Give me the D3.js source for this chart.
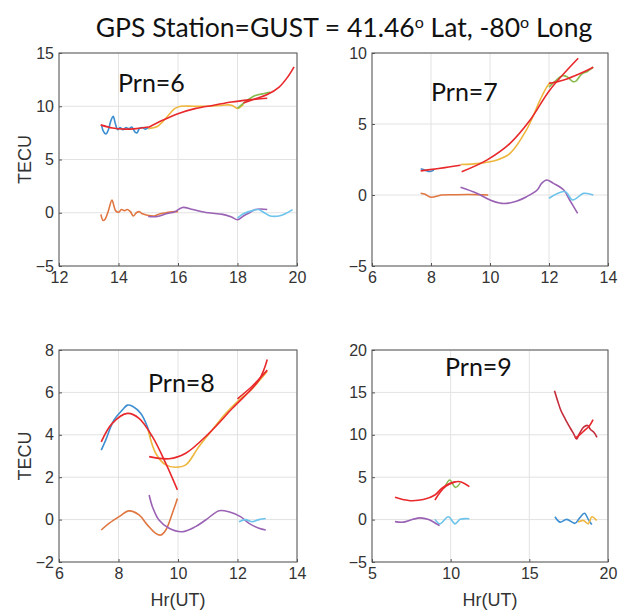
<!DOCTYPE html>
<html>
<head>
<meta charset="utf-8">
<script src="https://cdn.jsdelivr.net/npm/d3@7"></script>
<style>
  body { margin: 0; background: #fff; }
  .grid line { stroke: #e2e2e2; }
  .trace { fill: none; stroke-width: 1.6; stroke-linejoin: round; }
</style>
</head>
<body>
<svg id="chart" width="619" height="613"></svg>
<script>
const TITLE = 'GPS Station=GUST = 41.46';
const Y_LABEL = 'TECU';
const X_LABEL = 'Hr(UT)';
const SANS = '"Liberation Sans", Arial, sans-serif';
const HUMAN = 'Lato, "Open Sans", sans-serif';

const COLORS = {
  blue: '#3d8fd1', orange: '#e07640', yellow: '#efb63e', purple: '#9a62b4',
  green: '#86ba4c', cyan: '#6cc4ec', red: '#e8282b', darkred: '#c42c3c'
};

// Prn=6
const p6Blue = [[13.43,8.2],[13.5,7.6],[13.58,7.4],[13.66,7.8],[13.75,8.7],[13.82,9.05],[13.9,8.3],[13.97,7.8],[14.05,8.0],[14.15,7.8],[14.25,8.0],[14.35,7.9],[14.45,8.05],[14.55,7.6],[14.62,7.5],[14.7,7.9],[14.8,8.0],[14.9,7.85],[15.0,8.0]];
const p6Yellow = [[15.0,7.9],[15.3,8.1],[15.6,8.9],[15.9,9.8],[16.1,10.0],[16.5,10.0],[17.0,10.0],[17.5,10.1],[17.8,10.1],[18.0,9.8],[18.2,10.2]];
const p6Green = [[18.0,9.8],[18.3,10.5],[18.6,11.0],[18.9,11.2],[19.1,11.3]];
const p6RedA = [[13.4,8.25],[13.8,7.95],[14.2,7.85],[14.6,7.9],[15.0,8.05]];
const p6RedB = [[15.0,8.0],[15.5,8.7],[16.0,9.3],[16.6,9.8],[17.2,10.1],[17.8,10.4],[18.4,10.6],[19.0,10.75]];
const p6RedC = [[18.2,10.3],[18.6,10.7],[19.0,11.1],[19.4,11.8],[19.7,12.8],[19.9,13.7]];
const p6Orange = [[13.41,-0.16],[13.48,-0.73],[13.55,-0.6],[13.65,0.1],[13.78,1.2],[13.85,0.6],[13.9,0.2],[14.0,0.05],[14.1,0.3],[14.2,0.2],[14.3,0.3],[14.4,0.1],[14.5,-0.3],[14.6,0.0],[14.7,0.1],[14.8,-0.1],[15.0,-0.25],[15.2,-0.3],[15.4,-0.1],[15.6,0.0],[15.8,0.1],[16.0,0.1]];
const p6Purple = [[15.0,-0.35],[15.3,-0.35],[15.6,-0.1],[15.9,0.1],[16.15,0.5],[16.5,0.3],[17.0,0.0],[17.5,-0.15],[17.8,-0.4],[18.0,-0.65],[18.2,-0.3],[18.4,0.0],[18.6,0.3],[18.8,0.35],[19.0,0.3]];
const p6Cyan = [[18.0,-0.5],[18.2,-0.1],[18.5,0.2],[18.7,0.3],[18.9,0.0],[19.1,-0.3],[19.4,-0.3],[19.6,-0.1],[19.85,0.3]];

// Prn=7
const p7Blue = [[7.65,1.85],[7.8,1.75],[7.95,1.65],[8.1,1.75]];
const p7RedA = [[7.65,1.7],[8.2,1.85],[8.6,1.97],[9.0,2.1]];
const p7Yellow = [[9.0,2.15],[9.66,2.23],[10.23,2.46],[10.68,2.93],[11.24,4.6],[11.7,6.7],[11.92,7.6],[12.05,7.96]];
const p7RedB = [[9.04,1.64],[9.89,2.46],[10.68,3.64],[11.36,5.28],[12.03,7.4],[12.99,9.63]];
const p7RedC = [[12.0,7.85],[12.5,8.1],[13.0,8.5],[13.5,9.0]];
const p7Green = [[12.0,7.6],[12.2,8.0],[12.45,8.4],[12.6,8.35],[12.8,8.0],[12.9,8.0],[13.1,8.5],[13.3,8.7],[13.5,9.0]];
const p7Orange = [[7.65,0.12],[7.8,0.05],[8.0,-0.16],[8.35,0.0],[8.8,0.02],[9.3,0.03],[9.94,0.0]];
const p7Purple = [[9.0,0.54],[9.55,0.12],[10.0,-0.35],[10.4,-0.59],[10.8,-0.5],[11.24,-0.12],[11.6,0.35],[11.75,0.82],[11.92,1.06],[12.15,0.82],[12.5,0.35],[12.7,-0.35],[12.97,-1.29]];
const p7Cyan = [[12.0,-0.23],[12.54,0.24],[12.8,-0.35],[13.18,0.12],[13.5,0.0]];

// Prn=8
const p8Blue = [[7.42,3.28],[7.57,3.75],[7.85,4.7],[8.13,5.17],[8.3,5.4],[8.47,5.35],[8.75,5.0],[8.97,4.38],[9.08,3.9]];
const p8Yellow = [[9.0,4.2],[9.25,3.13],[9.59,2.58],[9.92,2.47],[10.26,2.58],[10.7,3.44],[11.15,4.23],[11.6,5.0],[12.05,5.64],[12.39,6.03],[12.7,6.5],[13.0,7.0]];
const p8RedA = [[7.42,3.67],[7.79,4.54],[8.3,5.01],[8.69,4.78],[9.14,3.91],[9.59,2.65],[9.98,1.4]];
const p8RedB = [[9.03,2.97],[9.7,2.87],[10.26,3.13],[11.04,4.07],[11.83,5.25],[12.72,6.58],[13.0,7.55]];
const p8RedC = [[12.0,5.7],[12.5,6.3],[13.0,7.05]];
const p8Orange = [[7.42,-0.49],[7.68,-0.18],[8.02,0.14],[8.35,0.41],[8.69,0.22],[8.97,-0.25],[9.25,-0.65],[9.42,-0.73],[9.59,-0.49],[9.81,0.3],[9.98,1.0]];
const p8Purple = [[9.03,1.16],[9.14,0.61],[9.36,-0.02],[9.7,-0.41],[10.15,-0.57],[10.59,-0.33],[10.93,-0.02],[11.38,0.42],[11.71,0.37],[12.1,0.14],[12.39,-0.18],[12.72,-0.41],[12.95,-0.49]];
const p8Cyan = [[12.05,-0.1],[12.27,0.0],[12.5,-0.1],[12.72,0.0],[12.95,0.05]];

// Prn=9
const p9RedA = [[6.46,2.63],[7.0,2.35],[7.42,2.23],[8.26,2.36],[9.0,2.9],[9.43,3.69],[9.96,4.28],[10.59,4.47],[11.19,3.88]];
const p9RedB = [[9.0,2.31],[9.65,3.88],[10.3,4.47]];
const p9Green = [[9.6,3.7],[9.94,4.67],[10.3,3.8],[10.6,4.3]];
const p9Purple = [[6.46,-0.24],[7.0,-0.3],[7.6,0.03],[8.05,0.2],[8.6,0.0],[9.13,-0.52],[9.3,-0.7]];
const p9Cyan = [[9.0,0.03],[9.32,-0.5],[9.85,0.34],[10.28,-0.5],[10.6,0.03],[11.19,0.1]];
const p9DarkRed = [[16.6,15.2],[16.8,14.0],[17.0,12.9],[17.3,11.8],[17.6,10.8],[17.85,10.0],[18.0,9.5],[18.2,10.2],[18.45,10.9],[18.7,11.1],[18.9,10.6],[19.1,10.3],[19.3,9.7]];
const p9RedC = [[17.9,9.6],[18.2,10.0],[18.5,10.5],[18.8,11.0],[19.05,11.8]];
const p9Blue = [[16.63,0.34],[16.95,-0.3],[17.37,0.03],[17.9,-0.44],[18.2,0.2],[18.5,0.74],[18.75,0.03],[18.97,-0.6]];
const p9Yellow = [[18.1,-0.3],[18.43,-0.1],[18.75,-0.5],[18.97,0.34],[19.28,-0.1]];

const xTicks6 = [12, 14, 16, 18, 20];
const yTicks6 = [-5, 0, 5, 10, 15];
const xTicks7 = [6, 8, 10, 12, 14];
const yTicks7 = [-5, 0, 5, 10];
const xTicks8 = [6, 8, 10, 12, 14];
const yTicks8 = [-2, 0, 2, 4, 6, 8];
const xTicks9 = [5, 10, 15, 20];
const yTicks9 = [-5, 0, 5, 10, 15, 20];

const panels = [
  { prn: 'Prn=6', box: [59, 53, 238, 213], xT: xTicks6, yT: yTicks6, lab: [118, 92], yl: true, xl: false,
    series: [[p6Orange,'orange'],[p6Purple,'purple'],[p6Cyan,'cyan'],[p6Blue,'blue'],[p6Yellow,'yellow'],[p6Green,'green'],[p6RedA,'red'],[p6RedB,'red'],[p6RedC,'red']] },
  { prn: 'Prn=7', box: [372, 53, 236, 213], xT: xTicks7, yT: yTicks7, lab: [431, 101], yl: false, xl: false,
    series: [[p7Orange,'orange'],[p7Purple,'purple'],[p7Cyan,'cyan'],[p7Blue,'blue'],[p7Yellow,'yellow'],[p7Green,'green'],[p7RedA,'red'],[p7RedB,'red'],[p7RedC,'red']] },
  { prn: 'Prn=8', box: [59, 350, 238, 212], xT: xTicks8, yT: yTicks8, lab: [148, 392], yl: true, xl: true,
    series: [[p8Orange,'orange'],[p8Purple,'purple'],[p8Cyan,'cyan'],[p8Blue,'blue'],[p8Yellow,'yellow'],[p8RedA,'red'],[p8RedB,'red'],[p8RedC,'red']] },
  { prn: 'Prn=9', box: [372, 350, 236, 212], xT: xTicks9, yT: yTicks9, lab: [445, 376], yl: false, xl: true,
    series: [[p9Purple,'purple'],[p9Cyan,'cyan'],[p9Blue,'blue'],[p9Yellow,'yellow'],[p9Green,'green'],[p9RedA,'red'],[p9RedB,'red'],[p9DarkRed,'darkred'],[p9RedC,'red']] }
];

const svg = d3.select('#chart');

// title with superscript degree marks
const title = svg.append('text')
  .attr('x', 344)
  .attr('y', 37)
  .attr('text-anchor', 'middle')
  .attr('font-family', HUMAN)
  .attr('font-size', 26.5)
  .attr('fill', '#111');
title.append('tspan').text(TITLE);
title.append('tspan').attr('dy', -9).attr('font-size', 16).text('o');
title.append('tspan').attr('dy', 9).text(' Lat, -80');
title.append('tspan').attr('dy', -9).attr('font-size', 16).text('o');
title.append('tspan').attr('dy', 9).text(' Long');

panels.forEach(p => {
  const [left, top, w, h] = p.box;
  const x = d3.scaleLinear().domain(d3.extent(p.xT)).range([0, w]);
  const y = d3.scaleLinear().domain(d3.extent(p.yT)).range([h, 0]);

  const g = svg.append('g').attr('transform', `translate(${left},${top})`);

  // grid
  g.append('g').attr('class', 'grid')
    .selectAll('line').data(p.xT).join('line')
    .attr('x1', d => x(d)).attr('x2', d => x(d)).attr('y1', 0).attr('y2', h);
  g.append('g').attr('class', 'grid')
    .selectAll('line').data(p.yT).join('line')
    .attr('y1', d => y(d)).attr('y2', d => y(d)).attr('x1', 0).attr('x2', w);

  // traces
  const line = d3.line().x(d => x(d[0])).y(d => y(d[1])).curve(d3.curveCatmullRom);
  g.selectAll('path.trace').data(p.series).join('path')
    .attr('class', 'trace')
    .attr('stroke', d => COLORS[d[1]])
    .attr('d', d => line(d[0]));

  // axes
  const xAxis = g.append('g').attr('transform', `translate(0,${h})`)
    .call(d3.axisBottom(x).tickValues(p.xT).tickSize(-3).tickPadding(6).tickFormat(d3.format('d')));
  const yAxis = g.append('g')
    .call(d3.axisLeft(y).tickValues(p.yT).tickSize(-3).tickPadding(5).tickFormat(d3.format('d')));
  [xAxis, yAxis].forEach(a => {
    a.attr('font-family', SANS).attr('font-size', 16);
    a.select('.domain').remove();
    a.selectAll('.tick line').attr('stroke', '#555');
    a.selectAll('.tick text').attr('fill', '#333');
  });

  g.append('rect')
    .attr('width', w).attr('height', h)
    .attr('fill', 'none').attr('stroke', '#555').attr('stroke-width', 1);

  g.append('text')
    .attr('x', p.lab[0] - left).attr('y', p.lab[1] - top)
    .attr('font-family', HUMAN).attr('font-size', 25).attr('fill', '#111')
    .text(p.prn);

  if (p.yl) {
    g.append('text')
      .attr('transform', `translate(-28,${h / 2}) rotate(-90)`)
      .attr('text-anchor', 'middle')
      .attr('font-family', SANS).attr('font-size', 18).attr('fill', '#333')
      .text(Y_LABEL);
  }
  if (p.xl) {
    g.append('text')
      .attr('x', w / 2).attr('y', h + 44)
      .attr('text-anchor', 'middle')
      .attr('font-family', SANS).attr('font-size', 18).attr('fill', '#333')
      .text(X_LABEL);
  }
});
</script>
</body>
</html>
